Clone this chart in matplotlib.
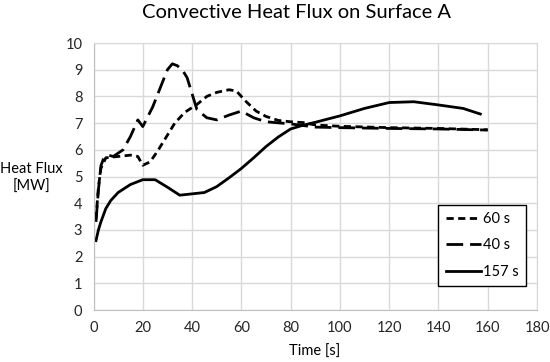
import matplotlib
matplotlib.use("Agg")
import matplotlib.pyplot as plt

plt.rcParams['font.family'] = ['Lato', 'DejaVu Sans']

# 60 s case (short dash)
t60 = [1, 2, 3, 5, 10, 15, 18, 20, 23, 26, 30, 33, 37, 42, 46, 50, 55, 58, 62, 66, 70, 75, 80, 85, 90, 100, 120, 140, 160]
q60 = [3.4, 4.6, 5.3, 5.7, 5.75, 5.8, 5.75, 5.42, 5.55, 5.95, 6.55, 7.0, 7.4, 7.7, 8.0, 8.15, 8.25, 8.2, 7.8, 7.45, 7.25, 7.1, 7.05, 7.02, 6.93, 6.88, 6.83, 6.8, 6.75]

# 40 s case (long dash)
t40 = [1, 2, 3, 4, 6, 8, 12, 15, 18, 20, 24, 27, 30, 32, 34, 36, 38, 42, 46, 50, 55, 60, 65, 70, 80, 90, 100, 120, 140, 160]
q40 = [3.3, 4.5, 5.4, 5.65, 5.8, 5.75, 6.0, 6.5, 7.12, 6.87, 7.6, 8.3, 9.0, 9.22, 9.15, 9.0, 8.7, 7.5, 7.2, 7.12, 7.3, 7.45, 7.2, 7.05, 6.97, 6.85, 6.83, 6.8, 6.78, 6.74]

# 157 s case (solid)
t157 = [1, 2, 3, 5, 7, 10, 15, 20, 25, 30, 35, 40, 45, 50, 55, 60, 65, 70, 75, 80, 85, 90, 100, 110, 120, 130, 140, 150, 157]
q157 = [2.6, 3.0, 3.3, 3.8, 4.1, 4.4, 4.7, 4.88, 4.88, 4.6, 4.3, 4.35, 4.4, 4.62, 4.95, 5.3, 5.7, 6.12, 6.48, 6.78, 6.92, 7.03, 7.27, 7.55, 7.77, 7.8, 7.68, 7.55, 7.34]

fig = plt.figure(figsize=(5.5, 3.62), dpi=100)
ax = fig.add_axes([93.5 / 550, 52 / 362, 443.5 / 550, 267 / 362])

ax.plot(t60, q60, color="black", linewidth=2, linestyle=(0, (2.6, 1.6)), label="60 s")
ax.plot(t40, q40, color="black", linewidth=2, linestyle=(0, (6, 2.5)), label="40 s")
ax.plot(t157, q157, color="black", linewidth=2, linestyle="-", label="157 s")

ax.set_xlim(0, 180)
ax.set_ylim(0, 10)
ax.set_xticks(range(0, 181, 20))
ax.set_yticks(range(0, 11, 1))
ax.grid(True, color="#d9d9d9", linewidth=1)
ax.set_axisbelow(True)
for s in ax.spines.values():
    s.set_color("#d9d9d9")
ax.spines["left"].set_color("#bfbfbf")
ax.spines["bottom"].set_color("#bfbfbf")
ax.tick_params(length=0, labelsize=10.5, pad=8)
for lbl in ax.get_xticklabels() + ax.get_yticklabels():
    lbl.set_color("#262626")

fig.text(297 / 550, 1 - 13 / 362, "Convective Heat Flux on Surface A", ha="center", va="center", fontsize=14.5)
fig.text(315 / 550, 1 - 352 / 362, "Time [s]", ha="center", va="center", fontsize=10.5)
fig.text(31 / 550, 1 - 178 / 362, "Heat Flux\n[MW]", ha="center", va="center", fontsize=10.5, linespacing=1.3)

leg = ax.legend(loc="lower right", bbox_to_anchor=(526 / 550, 1 - 286 / 362), bbox_transform=fig.transFigure,
                fontsize=10.5, fancybox=False, edgecolor="black", handlelength=2.4, handletextpad=0.15,
                labelspacing=0.85, borderpad=0.5, borderaxespad=0, framealpha=1)
leg.get_frame().set_linewidth(1)

plt.savefig("out.png", dpi=100)
plt.close()
